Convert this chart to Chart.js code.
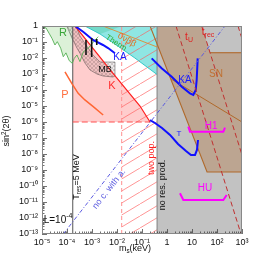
<!DOCTYPE html>
<html><head><meta charset="utf-8">
<script src="https://cdn.jsdelivr.net/npm/chart.js@4.4.0/dist/chart.umd.min.js"></script>
<style>html,body{margin:0;padding:0;background:#fff}canvas{display:block}</style>
</head><body>
<canvas id="c" width="269" height="260"></canvas>
<script>
// ---------- axis ticks ----------
const xTickValues = [1e-5,1e-4,1e-3,1e-2,1e-1,1,10,100,1000];
const xTickLabels = ['10\u207B\u2075','10\u207B\u2074','10\u207B\u00B3','10\u207B\u00B2','10\u207B\u00B9','1','10','10\u00B2','10\u00B3'];
const yTickValues = [1,1e-1,1e-2,1e-3,1e-4,1e-5,1e-6,1e-7,1e-8,1e-9,1e-10,1e-11,1e-12,1e-13];
const yTickLabels = ['1','10\u207B\u00B9','10\u207B\u00B2','10\u207B\u00B3','10\u207B\u2074','10\u207B\u2075','10\u207B\u2076','10\u207B\u2077','10\u207B\u2078','10\u207B\u2079','10\u207B\u00B9\u2070','10\u207B\u00B9\u00B9','10\u207B\u00B9\u00B2','10\u207B\u00B9\u00B3'];

// ---------- regions and curves: [m_s (keV), sin^2(2theta)] ----------
const noResProd = [[0.4,1e-13],[0.4,1],[1000,1],[1000,1e-13]];
const snFill = [[0.4,0.076],[40,7.5e-10],[1000,7.5e-10],[1000,0.0214],[52.7,0.0214],[24.4,1],[0.4,1]];
const snEdge = [[0.21,1],[40,7.5e-10],[1000,7.5e-10]];
const snTop = [[52.7,0.0214],[1000,0.0214]];
const snInner = [[1.45,4.9e-4],[1000,1e-6]];
const xrayFill = [[5.2e-4,1],[2.1e-3,0.316],[8.3e-3,0.075],[0.052,0.01],[0.4,9.3e-4],[0.4,1]];
const xrayEdge = [[5.2e-4,1],[2.1e-3,0.316],[8.3e-3,0.075],[0.052,0.01],[0.4,9.3e-4]];
const thermFill = [[5.2e-4,1],[0.0158,1],[2.1e-3,0.316]];
const bbLine = [[2.75e-3,1],[0.4,0.049]];
const rLine = [[1e-5,0.87],[1.45e-5,0.75],[1.9e-5,0.36],[2.5e-5,0.17],[3.3e-5,0.065],[4.1e-5,0.105],[5.6e-5,0.041],[7.1e-5,0.012],[9.1e-5,0.021],[1.23e-4,6.8e-3],[1.62e-4,4.7e-3],[1.95e-4,9.5e-3],[2.5e-4,0.0155],[3.3e-4,5.9e-3],[4.5e-4,0.0245],[7.1e-4,0.041],[1.32e-3,0.133],[1.78e-3,0.214]];
const tRes = 1.7e-4;
const kFill = [[1.7e-4,1],[2.1e-4,1],[6.3e-3,1.33e-3],[0.083,1e-5],[0.21,1e-6],[1.7e-4,1e-6]];
const kLine = [[2.1e-4,1],[6.3e-3,1.33e-3],[0.083,1e-5],[0.21,1e-6]];
const kFloor = [[1.7e-4,1e-6],[0.21,1e-6]];
const twoPop = 0.0154;
const mbFill = [[9.8e-5,1],[1.58e-4,0.178],[2.5e-4,0.042],[3.3e-4,0.02],[5.2e-4,4.9e-3],[8.3e-4,1.8e-3],[1.58e-3,1e-3],[2.75e-3,7.5e-4],[6.9e-3,6.5e-4],[8.3e-3,7.5e-4],[8.3e-3,5.6e-3],[2.1e-3,5.6e-3],[1.1e-3,0.0155],[5.75e-4,0.065],[3.3e-4,0.237],[2.3e-4,1]];
const mbBars = [[[5.75e-4,0.133],[5.75e-4,0.0155]],[[9.7e-4,0.178],[9.7e-4,0.0115]],[[1.55e-3,0.155],[1.55e-3,0.065]]];
const pLine = [[8.3e-5,1.38e-3],[1.55e-4,2.6e-4],[2.8e-4,6.2e-5],[5.2e-4,2.4e-5],[1.12e-3,9.1e-6],[2.8e-3,2.75e-6]];
const kaLeft = [[2.1e-4,1],[4.4e-4,0.44],[1.1e-3,0.133],[2.75e-3,0.065],[4.4e-3,0.042],[8.3e-3,0.02]];
const kaRight = [[0.244,9.5e-3],[0.61,2.3e-3],[1.54,6.8e-4],[3.9,1.6e-4],[8.3,6.2e-5],[11.3,4.9e-5],[14.1,1e-4],[15.4,4.2e-4],[16.9,9.5e-3]];
const tLine = [[0.21,1.33e-6],[0.33,8.7e-7],[0.63,4.2e-7],[1.32,1.55e-7],[2.75,4.2e-8],[5.75,1.55e-8],[9.1,8.7e-9],[13.2,8.7e-9],[15.8,1.8e-8],[17.4,7.5e-8]];
const h1 = [[7.1,5.1e-7],[8.3,2.5e-7],[179,2.5e-7],[209,4.4e-7]];
const hu = [[3.3,3.5e-11],[4.5,1.33e-11],[179,1.33e-11],[244,2.75e-11]];
const tU = [[2.29,1],[912,1e-13]];
const tRec = [[24.4,1],[1000,8.7e-9]];
const tThird = [[692,1],[1000,0.158]];
const noCoh = [[7.1e-5,1e-13],[209,1]];

// ---------- text labels ----------
const labels = [
  {t:'R', at:[6.9e-5,0.36], c:'#3aa63a', s:11},
  {t:'P', at:[8.3e-5,4.9e-5], c:'#ff7040', s:11},
  {t:'K', at:[6.2e-3,1.8e-4], c:'#ff3030', s:11},
  {t:'MB', at:[3.3e-3,1.8e-3], c:'#111', s:9},
  {t:'KA', at:[0.0132,0.0115], c:'#1a1aff', s:10},
  {t:'KA', at:[5.2,4.2e-4], c:'#1a1aff', s:10},
  {t:'T', at:[3.0,1.8e-7], c:'#1a1aff', s:8},
  {t:'Therm', at:[9.1e-3,0.087], c:'#33b033', s:8, r:33},
  {t:'0\u03BD\u03B2\u03B2', at:[0.025,0.133], c:'#e07020', s:9, r:30},
  {t:'t_{U}', at:[7.6,0.2], c:'#e02020', s:10},
  {t:'t_{rec}', at:[44,0.42], c:'#e02020', s:10},
  {t:'SN', at:[91,1e-3], c:'#c07030', s:10},
  {t:'H1', at:[58,5.6e-7], c:'#ff00ff', s:10},
  {t:'HU', at:[33,7.5e-11], c:'#ff00ff', s:10},
  {t:'no res. prod.', at:[0.69,1.15e-10], c:'#111', s:9, r:-90},
  {t:'two pop.', at:[0.25,5.6e-9], c:'#ff2020', s:9, r:-90},
  {t:'no c. with a.', at:[4.8e-3,6.5e-11], c:'#6060e0', s:9, r:-52},
  {t:'T_{res}=5 MeV', at:[2.5e-4,3.6e-10], c:'#111', s:9, r:-90},
  {t:'L=10^{-4}', at:[4.4e-5,7.5e-13], c:'#111', s:10}
];

// ---------- patterns ----------
function makePattern(w,h,bg,draw){
  const c=document.createElement('canvas'); c.width=w; c.height=h;
  const g=c.getContext('2d'); if(bg){g.fillStyle=bg; g.fillRect(0,0,w,h);} draw(g,w,h);
  return document.getElementById('c').getContext('2d').createPattern(c,'repeat');
}
const hatchPop = makePattern(20,12,null,(g,w,h)=>{
  g.strokeStyle='rgba(255,90,90,0.8)'; g.lineWidth=0.8;
  for(const dx of [-w,0,w]){g.beginPath(); g.moveTo(dx,h); g.lineTo(dx+w,0); g.stroke();}
});
const hatchMB = makePattern(4,4,'rgba(90,70,70,0.1)',(g,w,h)=>{
  g.strokeStyle='rgba(60,45,45,0.3)'; g.lineWidth=0.6;
  g.beginPath(); g.moveTo(0,0); g.lineTo(w,h); g.moveTo(w,0); g.lineTo(0,h); g.stroke();
});

// ---------- datasets (back to front) ----------
const pts = a => a.map(p=>({x:p[0],y:p[1]}));
const closed = a => pts(a.concat([a[0]]));
const layers = [];
function area(a,color){ layers.push({data:closed(a), fill:'shape', backgroundColor:color, borderColor:'rgba(0,0,0,0)', borderWidth:0}); }
function line(a,color,w,dash){ layers.push({data:pts(a), fill:false, borderColor:color, borderWidth:w, borderDash:dash||[]}); }

area(noResProd,'#c2c2c2');
area(snFill,'#bca591');
area(xrayFill,'#8fe6e3');
area(thermFill,'rgba(90,205,175,0.5)');
const rEdge = rLine.filter(p=>p[0]<=tRes);
area([[1e-5,1],[tRes,1],[tRes,rEdge[rEdge.length-1][1]]].concat(rEdge.slice().reverse()),'#dcf1d8');
area(kFill,'rgba(255,130,130,0.4)');
area([[twoPop,1e-13],[twoPop,1],[0.4,1],[0.4,1e-13]],hatchPop);
area(mbFill,hatchMB);
line(noResProd.slice(0,2),'#808080',1);
line(snEdge,'#b0692a',1.1);
line(snTop,'#b0692a',1.1);
line(snInner,'#b0692a',1);
line(xrayEdge,'#33c8c8',1);
line(bbLine,'#e08a30',0.9);
line(mbFill.concat([mbFill[0]]),'rgba(40,40,40,0.7)',0.6);
line([[tRes,1e-13],[tRes,1]],'#555',1);
line([[twoPop,1e-13],[twoPop,1]],'#ff8f8f',1,[4,3]);
line(kFloor,'#ff5050',1.2,[6,3]);
line(kLine,'#ff2020',1.2);
line(rLine,'#55b055',0.9);
line(pLine,'#ff6633',1.5);
line(kaLeft,'#1010ff',2);
line(kaRight,'#1010ff',2);
line(tLine,'#1010ff',2);
line(h1,'#ff00ff',2);
line(hu,'#ff00ff',2);
line(tU,'#c03030',1,[5,3]);
line(tRec,'#c03030',1,[5,3]);
line(tThird,'#c03030',1,[5,3]);
line(noCoh,'#5a5ae0',1,[4,2,1,2]);
mbBars.forEach(b=>line(b,'#111',1.6));
const N = layers.length;
layers.forEach((d,i)=>{ d.order = N-i; d.pointRadius=0; d.pointHoverRadius=0; d.tension=0; d.showLine=true; });

// ---------- plugins ----------
const FONT = "'Liberation Sans', Arial, sans-serif";
function richText(ctx, str, x, y, size, color, rot){
  const parts=[]; const re=/([_^])\{([^}]*)\}|([^_^]+)/g; let m;
  while((m=re.exec(str))){ if(m[3]) parts.push({t:m[3],k:''}); else parts.push({t:m[2],k:m[1]}); }
  ctx.save(); ctx.translate(x,y); if(rot) ctx.rotate(rot*Math.PI/180);
  let w=0; parts.forEach(p=>{ctx.font=(p.k?size*0.7:size)+'px '+FONT; p.w=ctx.measureText(p.t).width; w+=p.w;});
  let cx=-w/2; ctx.fillStyle=color; ctx.textBaseline='middle'; ctx.textAlign='left';
  parts.forEach(p=>{ctx.font=(p.k?size*0.7:size)+'px '+FONT; const dy=p.k==='_'?size*0.3:(p.k==='^'?-size*0.35:0); ctx.fillText(p.t,cx,dy); cx+=p.w;});
  ctx.restore();
}
const decor = {
  id:'decor',
  afterDatasetsDraw(chart){
    const ctx=chart.ctx, xs=chart.scales.x, ys=chart.scales.y, a=chart.chartArea;
    ctx.save();
    ctx.strokeStyle='#333'; ctx.lineWidth=0.7;
    ctx.beginPath();
    for(let d=-5; d<=3; d++) for(let k=1;k<=9;k++){ const v=k*Math.pow(10,d); if(v>1000*1.0001) break; const px=Math.round(xs.getPixelForValue(v))+0.5; const L=k===1?5:2.5; ctx.moveTo(px,a.bottom); ctx.lineTo(px,a.bottom-L); }
    for(let d=-13; d<=0; d++) for(let k=1;k<=9;k++){ const v=k*Math.pow(10,d); if(v>1.0001) break; const py=Math.round(ys.getPixelForValue(v))+0.5; const L=k===1?5:2.5; ctx.moveTo(a.left,py); ctx.lineTo(a.left+L,py); }
    ctx.stroke();
    ctx.strokeStyle='#888'; ctx.lineWidth=1;
    ctx.strokeRect(Math.round(a.left)+0.5,Math.round(a.top)+0.5,Math.round(a.right-a.left)-1,Math.round(a.bottom-a.top)-1);
    labels.forEach(l=>richText(ctx,l.t,xs.getPixelForValue(l.at[0]),ys.getPixelForValue(l.at[1]),l.s,l.c,l.r||0));
    richText(ctx,'m_{s}(keV)',(a.left+a.right)/2-7,chart.height-11,9,'#111',0);
    richText(ctx,'sin^{2}(2\u03B8)',7,(a.top+a.bottom)/2+1,9,'#111',-90);
    ctx.restore();
  }
};

const findLabel=(vals,labs,v)=>{ for(let i=0;i<vals.length;i++) if(Math.abs(Math.log10(vals[i])-Math.log10(v))<1e-6) return labs[i]; return ''; };

new Chart(document.getElementById('c'),{
  type:'scatter',
  data:{datasets:layers},
  plugins:[decor],
  options:{
    responsive:false, animation:false, events:[],
    layout:{padding:{left:0,top:26,right:27,bottom:0}},
    plugins:{legend:{display:false},tooltip:{enabled:false}},
    scales:{
      x:{type:'logarithmic',min:1e-5,max:1000,
         afterBuildTicks:s=>{s.ticks=xTickValues.map(v=>({value:v}));},
         afterFit:s=>{s.height=26;},
         grid:{display:false,drawTicks:false},border:{display:false},
         ticks:{autoSkip:false,maxRotation:0,padding:3,color:'#111',font:{size:9,family:FONT},
                callback:v=>findLabel(xTickValues,xTickLabels,v)}},
      y:{type:'logarithmic',min:1e-13,max:1,
         afterBuildTicks:s=>{s.ticks=yTickValues.map(v=>({value:v}));},
         afterFit:s=>{s.width=42;},
         grid:{display:false,drawTicks:false},border:{display:false},
         ticks:{autoSkip:false,padding:4,color:'#111',font:{size:9,family:FONT},
                callback:v=>findLabel(yTickValues,yTickLabels,v)}}
    }
  }
});
</script>
</body></html>
